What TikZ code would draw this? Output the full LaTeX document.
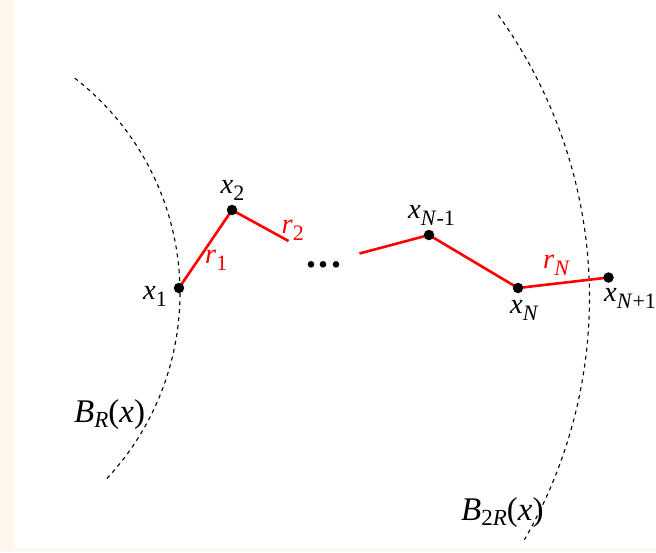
\documentclass[tikz,border=0pt]{standalone}
\usepackage{fontspec}
\setmainfont{Liberation Serif}
\definecolor{cream}{RGB}{253,247,237}
\newcommand{\ssub}[1]{\raisebox{-7pt}{\fontsize{22}{22}\selectfont #1}}
\newcommand{\bsub}[1]{\raisebox{-5pt}{\fontsize{23}{23}\selectfont #1}}
\begin{document}
\begin{tikzpicture}[x=1pt,y=-1pt,
  dot/.style={circle,fill=black,inner sep=0pt,minimum size=10.5pt},
  seg/.style={red,line width=2.6pt},
  bound/.style={line width=1.1pt,dash pattern=on 4pt off 4pt},
  lab/.style={anchor=base west,inner sep=0pt,font=\fontsize{28.5}{28.5}\selectfont},
  rlab/.style={lab,text=red},
  blab/.style={anchor=base west,inner sep=0pt,font=\fontsize{33}{33}\selectfont}]
\useasboundingbox (0,0) rectangle (656,552);
\fill[white] (0,0) rectangle (656,552);
\fill[cream] (0,0) rectangle (14,552);
\fill[cream] (0,548) rectangle (656,552);
% boundaries
\draw[bound] plot[domain=52.2:-43.5,samples=90,smooth] ({-92+272*cos(\x)},{293-272*sin(\x)});
\draw[bound] plot[domain=35.8:-30.1,samples=120,smooth] ({106.5+483*cos(\x)},{297.5-483*sin(\x)});
% points
\coordinate (c1) at (179,288);
\coordinate (c2) at (232,210);
\coordinate (e2) at (288.5,241);
\coordinate (s3) at (359.5,253.5);
\coordinate (c4) at (429,235);
\coordinate (c5) at (518,288);
\coordinate (c6) at (608.5,277.5);
\draw[seg] (c1) -- (c2) -- (e2);
\draw[seg] (s3) -- (c4) -- (c5) -- (c6);
\node[dot] (p1) at (c1) {};
\node[dot] (p2) at (c2) {};
\node[dot] (p4) at (c4) {};
\node[dot] (p5) at (c5) {};
\node[dot] (p6) at (c6) {};
\node[anchor=base,inner sep=0pt,font=\fontsize{40}{40}\selectfont\bfseries] (dots) at (324,267.5) {.\kern2.5pt.\kern2.5pt.};
% labels
\node[lab] (l1) at (143,299.5) {\textit{x}\ssub{1}};
\node[lab] (l2) at (220.5,193) {\textit{x}\ssub{2}};
\node[lab] (l4) at (408,218) {\textit{x}\ssub{\textit{N}-1}};
\node[lab] (l5) at (510,313) {\textit{x}\ssub{\textit{N}}};
\node[lab] (l6) at (604,301.5) {\textit{x}\ssub{\textit{N}+1}};
\node[rlab] (r1) at (205,263) {\textit{r}\ssub{1}};
\node[rlab] (r2) at (281.5,233) {\textit{r}\ssub{2}};
\node[rlab] (rN) at (543,268) {\textit{r}\ssub{\textit{N}}};
\node[blab] (b1) at (74,422) {\textit{B}\bsub{\textit{R}}(\textit{x})};
\node[blab] (b2) at (461,520) {\textit{B}\bsub{2\textit{R}}(\textit{x})};
\end{tikzpicture}
\end{document}
